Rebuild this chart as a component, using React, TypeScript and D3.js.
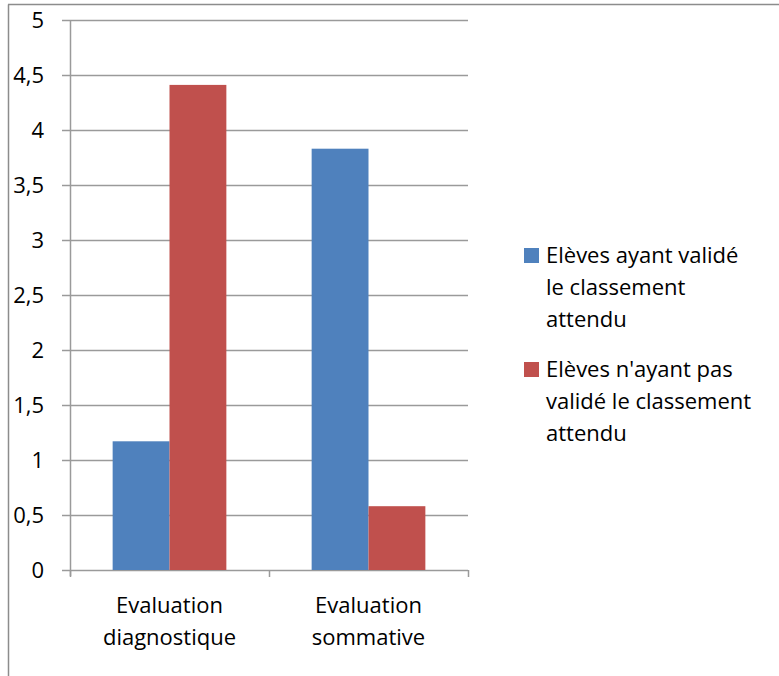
import { useEffect, useRef } from "react";
import * as d3 from "d3";

const categories = ["Evaluation\ndiagnostique", "Evaluation\nsommative"];
const seriesNames = [
  "Elèves ayant validé\nle classement\nattendu",
  "Elèves n'ayant pas\nvalidé le classement\nattendu",
];
const validated = [1.17, 3.83];
const notValidated = [4.41, 0.58];
const yTicks = [0, 0.5, 1, 1.5, 2, 2.5, 3, 3.5, 4, 4.5, 5];
const colors = ["#4F81BD", "#C0504D"];

const FONT = "'Open Sans', 'Noto Sans', sans-serif";

export default function App() {
  const ref = useRef<SVGSVGElement | null>(null);

  useEffect(() => {
    if (!ref.current) return;
    const svg = d3.select(ref.current);
    svg.selectAll("*").remove();

    const width = 779;
    const height = 676;
    const plot = { left: 70, right: 468, top: 20, bottom: 570 };

    svg.attr("width", width).attr("height", height);

    // outer chart frame (left + top edges visible)
    svg.append("line")
      .attr("x1", 8.5).attr("x2", 8.5).attr("y1", 4.5).attr("y2", height)
      .attr("stroke", "#8c8c8c").attr("stroke-width", 1.5);
    svg.append("line")
      .attr("x1", 8).attr("x2", width).attr("y1", 4.5).attr("y2", 4.5)
      .attr("stroke", "#8c8c8c").attr("stroke-width", 1.5);

    const x = d3.scaleBand<string>()
      .domain(categories)
      .range([plot.left, plot.right]);

    const x1 = d3.scaleBand<number>()
      .domain([0, 1])
      .range([0, x.bandwidth()])
      .paddingOuter(0.75)
      .paddingInner(0);

    const y = d3.scaleLinear()
      .domain([0, 5])
      .range([plot.bottom, plot.top]);

    // gridlines + y ticks
    const grid = svg.append("g");
    yTicks.forEach(t => {
      grid.append("line")
        .attr("x1", plot.left - 8).attr("x2", plot.right)
        .attr("y1", Math.round(y(t)) + 0.5).attr("y2", Math.round(y(t)) + 0.5)
        .attr("stroke", "#9a9a9a").attr("stroke-width", 1.5);
      grid.append("text")
        .attr("x", 44).attr("y", y(t))
        .attr("dy", "0.35em")
        .attr("text-anchor", "end")
        .attr("font-family", FONT).attr("font-size", 22)
        .attr("fill", "#000")
        .text(String(t).replace(".", ","));
    });

    // bars
    const series = [validated, notValidated];
    series.forEach((vals, si) => {
      svg.append("g").selectAll("rect")
        .data(vals)
        .enter()
        .append("rect")
        .attr("x", (_, i) => x(categories[i])! + x1(si)!)
        .attr("y", d => y(d))
        .attr("width", x1.bandwidth())
        .attr("height", d => y(0) - y(d))
        .attr("fill", colors[si]);
    });

    // y axis line
    svg.append("line")
      .attr("x1", plot.left + 0.5).attr("x2", plot.left + 0.5)
      .attr("y1", plot.top).attr("y2", plot.bottom + 6)
      .attr("stroke", "#9a9a9a").attr("stroke-width", 1.5);

    // x axis ticks
    [plot.left, ...categories.map(c => x(c)! + x.bandwidth())].forEach(px => {
      svg.append("line")
        .attr("x1", px + 0.5).attr("x2", px + 0.5)
        .attr("y1", plot.bottom).attr("y2", plot.bottom + 7)
        .attr("stroke", "#9a9a9a").attr("stroke-width", 1.5);
    });

    // category labels
    categories.forEach(c => {
      const lines = c.split("\n");
      const t = svg.append("text")
        .attr("text-anchor", "middle")
        .attr("font-family", FONT).attr("font-size", 22)
        .attr("fill", "#000");
      lines.forEach((l, i) => {
        t.append("tspan")
          .attr("x", x(c)! + x.bandwidth() / 2)
          .attr("y", 605 + i * 32)
          .attr("dy", "0.35em")
          .text(l);
      });
    });

    // legend
    const legendY = [255, 369];
    seriesNames.forEach((name, si) => {
      svg.append("rect")
        .attr("x", 524).attr("y", legendY[si] - 7)
        .attr("width", 15).attr("height", 15)
        .attr("fill", colors[si]);
      const t = svg.append("text")
        .attr("font-family", FONT).attr("font-size", 22)
        .attr("fill", "#000");
      name.split("\n").forEach((l, i) => {
        t.append("tspan")
          .attr("x", 546)
          .attr("y", legendY[si] + i * 32)
          .attr("dy", "0.35em")
          .text(l);
      });
    });
  }, []);

  return (
    <div style={{ position: "absolute", left: 0, top: 0 }}>
      <svg ref={ref} style={{ display: "block", background: "#fff" }} />
    </div>
  );
}
